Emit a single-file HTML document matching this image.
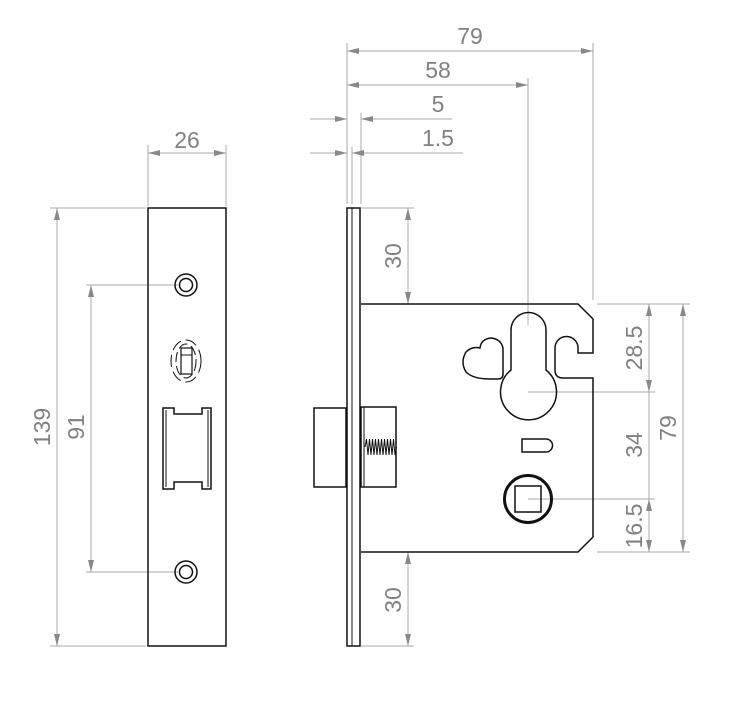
<!DOCTYPE html>
<html><head><meta charset="utf-8"><style>
html,body{margin:0;padding:0;background:#fff}
svg{display:block}
text{font-family:"Liberation Sans",sans-serif;font-size:23px;fill:#808080}
</style></head><body>
<svg width="744" height="711" viewBox="0 0 744 711" xmlns="http://www.w3.org/2000/svg">
<defs>
<marker id="a" viewBox="0 0 12 6" refX="12" refY="3" markerWidth="12" markerHeight="6" markerUnits="userSpaceOnUse" orient="auto-start-reverse"><path d="M0,0L12,3L0,6z" fill="#888"/></marker>
</defs>
<g stroke="#aaa" stroke-width="1" fill="none">
<line x1="148" y1="145" x2="148" y2="206"/><line x1="226" y1="145" x2="226" y2="206"/>
<line x1="148" y1="153" x2="226" y2="153" marker-start="url(#a)" marker-end="url(#a)"/>
<line x1="50" y1="208" x2="146" y2="208"/><line x1="50" y1="646" x2="146" y2="646"/>
<line x1="57" y1="208" x2="57" y2="646" marker-start="url(#a)" marker-end="url(#a)"/>
<line x1="86" y1="285" x2="178" y2="285"/><line x1="86" y1="572" x2="178" y2="572"/>
<line x1="91" y1="285" x2="91" y2="572" marker-start="url(#a)" marker-end="url(#a)"/>
<line x1="347" y1="43" x2="347" y2="204"/><line x1="593" y1="43" x2="593" y2="300"/>
<line x1="528" y1="78" x2="528" y2="325"/>
<line x1="361" y1="113" x2="361" y2="204"/><line x1="352" y1="147" x2="352" y2="204"/>
<line x1="347" y1="51" x2="593" y2="51" marker-start="url(#a)" marker-end="url(#a)"/>
<line x1="347" y1="85" x2="528" y2="85" marker-start="url(#a)" marker-end="url(#a)"/>
<line x1="310" y1="119" x2="347" y2="119" marker-end="url(#a)"/>
<line x1="452" y1="119" x2="361" y2="119" marker-end="url(#a)"/>
<line x1="310" y1="153" x2="347" y2="153" marker-end="url(#a)"/>
<line x1="463" y1="153" x2="352" y2="153" marker-end="url(#a)"/>
<line x1="361" y1="208" x2="414" y2="208"/><line x1="361" y1="646" x2="414" y2="646"/>
<line x1="408" y1="208" x2="408" y2="304" marker-start="url(#a)" marker-end="url(#a)"/>
<line x1="408" y1="552" x2="408" y2="646" marker-start="url(#a)" marker-end="url(#a)"/>
<line x1="597" y1="304" x2="690" y2="304"/><line x1="528" y1="392" x2="655" y2="392"/>
<line x1="528" y1="499" x2="655" y2="499"/><line x1="597" y1="552" x2="690" y2="552"/>
<line x1="649" y1="304" x2="649" y2="392" marker-start="url(#a)" marker-end="url(#a)"/>
<line x1="649" y1="392" x2="649" y2="499"/>
<line x1="649" y1="499" x2="649" y2="552" marker-start="url(#a)" marker-end="url(#a)"/>
<line x1="683" y1="304" x2="683" y2="552" marker-start="url(#a)" marker-end="url(#a)"/>
</g>
<text x="187" y="148" text-anchor="middle">26</text>
<text x="470" y="44" text-anchor="middle">79</text>
<text x="438" y="78" text-anchor="middle">58</text>
<text x="438" y="112" text-anchor="middle">5</text>
<text x="438" y="146" text-anchor="middle">1.5</text>
<text transform="translate(50,427) rotate(-90)" text-anchor="middle">139</text>
<text transform="translate(84,427) rotate(-90)" text-anchor="middle">91</text>
<text transform="translate(401,256) rotate(-90)" text-anchor="middle">30</text>
<text transform="translate(401,600) rotate(-90)" text-anchor="middle">30</text>
<text transform="translate(642,348) rotate(-90)" text-anchor="middle">28.5</text>
<text transform="translate(642,445) rotate(-90)" text-anchor="middle">34</text>
<text transform="translate(642,526) rotate(-90)" text-anchor="middle">16.5</text>
<text transform="translate(676,428) rotate(-90)" text-anchor="middle">79</text>
<g stroke="#111" stroke-width="1.5" fill="none">
<rect x="148" y="208" width="78" height="438"/>
<circle cx="186" cy="285" r="11"/><circle cx="186" cy="285" r="6.5"/>
<circle cx="186" cy="572" r="11"/><circle cx="186" cy="572" r="6.5"/>
<rect x="181" y="348" width="11" height="26" stroke-width="1.2"/>
<line x1="181" y1="355" x2="192" y2="355" stroke-width="1"/>
<ellipse cx="186" cy="361" rx="15" ry="21" stroke-dasharray="12 5" stroke-width="1"/>
<ellipse cx="186" cy="361" rx="10" ry="17" stroke-dasharray="10 4" stroke-width="1"/>
<path d="M163,408 L174,408 L174,414 L202,414 L202,408 L211,408 L211,489 L202,489 L202,482 L174,482 L174,489 L163,489 Z"/>
<line x1="166" y1="410" x2="166" y2="487" stroke-width="1"/>
<line x1="208" y1="410" x2="208" y2="487" stroke-width="1"/>
</g>
<g stroke="#111" stroke-width="1.5" fill="none">
<rect x="347" y="208" width="13" height="438"/>
<line x1="352" y1="208" x2="352" y2="646" stroke-width="1"/>
<path d="M361,304 L578,304 L593,319 L593,353 L578,353 L578,348 A11.5,11.5 0 0 0 555,348 L555,370 Q555,378 563,378 L593,378 L593,537 L578,552 L361,552"/>
<path d="M511,370 L511,330 A17.5,17.5 0 0 1 546,330 L546,370 A28,28 0 1 1 511,370 Z"/>
<path d="M490,379 Q473,379 466,372 Q460,362 466,352 Q472,346 480,348 Q481,339 491,338 Q501,339 503,348 L503,374 Q503,379 498,379 Z"/>
<path d="M522,439 L546,439 A6.5,6.5 0 0 1 546,452 L522,452 Z"/>
<circle cx="528" cy="499" r="23.5" stroke-width="3"/>
<rect x="515" y="486" width="26" height="26"/>
<rect x="314" y="408" width="32" height="79"/>
<rect x="361" y="407" width="35" height="80"/>
<line x1="364" y1="407" x2="364" y2="487" stroke-width="1"/>
</g>
<path d="M365,447 l1.5,-8 l1.5,16 l1.5,-16 l1.5,16 l1.5,-16 l1.5,16 l1.5,-16 l1.5,16 l1.5,-16 l1.5,16 l1.5,-16 l1.5,16 l1.5,-16 l1.5,16 l1.5,-16 l1.5,16 l1.5,-16 l1.5,16 l1.5,-16 l1.5,16 l1.5,-8" stroke="#111" stroke-width="1" fill="none"/>
</svg>
</body></html>
